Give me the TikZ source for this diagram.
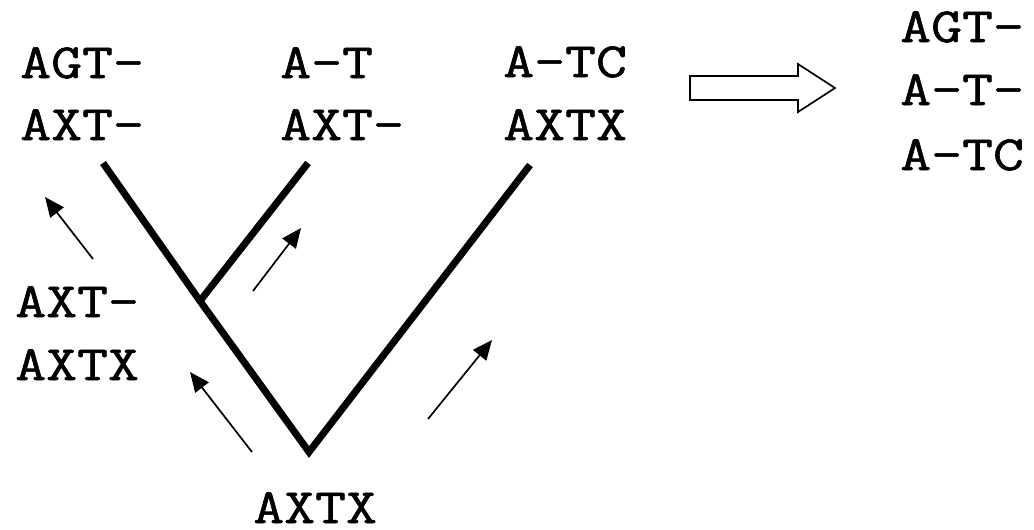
\documentclass[tikz,border=0pt]{standalone}
\usepackage{fontspec}
\setmonofont{Latin Modern Mono}[FakeStretch=1.22, FakeBold=1.2]
\usepackage{tikz}
\usetikzlibrary{arrows.meta, positioning, calc}

\begin{document}
\begin{tikzpicture}[
    x=0.025cm, y=-0.025cm,
    seq/.style={anchor=base west, inner sep=0pt, font=\fontsize{35}{42}\selectfont\ttfamily},
    branch/.style={line width=5pt, black},
    flow/.style={-{Triangle[length=14pt, width=12pt]}, line width=1.2pt},
    bigarrow/.style={draw, line width=1.2pt, fill=white}
]
    \useasboundingbox (0,0) rectangle (1034,529);

    % Tree
    \coordinate (root) at (309,452);
    \coordinate (inner) at (200,301);
    \coordinate (leafA) at (103,163);
    \coordinate (leafB) at (308,163);
    \coordinate (leafC) at (530,165);

    \draw [branch] (leafA) -- (inner) -- (root) -- (leafC);
    \draw [branch] (inner) -- (leafB);

    % Leaf labels
    \node (la1) [seq] at (20,78) {AGT-};
    \node (la2) [seq] at (20,140) {AXT-};
    \node (lb1) [seq] at (280,78) {A-T};
    \node (lb2) [seq] at (280,140) {AXT-};
    \node (lc1) [seq] at (503,77) {A-TC};
    \node (lc2) [seq] at (503,140) {AXTX};

    % Ancestor labels
    \node (li1) [seq] at (15,317) {AXT-};
    \node (li2) [seq] at (15,380) {AXTX};
    \node (lr) [seq] at (253,523) {AXTX};

    % Alignment result
    \node (al1) [seq] at (900,42) {AGT-};
    \node (al2) [seq] at (900,105) {A-T-};
    \node (al3) [seq] at (900,170) {A-TC};

    % Direction arrows
    \coordinate (t1) at (93,259);   \coordinate (h1) at (45,197);
    \coordinate (t2) at (253,291);  \coordinate (h2) at (301,228);
    \coordinate (t3) at (252,452);  \coordinate (h3) at (190,372);
    \coordinate (t4) at (428,419);  \coordinate (h4) at (492,340);

    \draw [flow] (t1) -- (h1);
    \draw [flow] (t2) -- (h2);
    \draw [flow] (t3) -- (h3);
    \draw [flow] (t4) -- (h4);

    % Block arrow
    \draw [bigarrow] (690,76) -- (798,76) -- (798,64) -- (835,88)
        -- (798,112) -- (798,100) -- (690,100) -- cycle;
\end{tikzpicture}
\end{document}
